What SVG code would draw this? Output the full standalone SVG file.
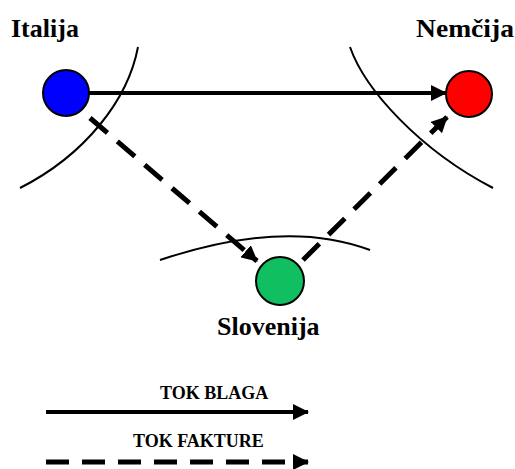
<svg xmlns="http://www.w3.org/2000/svg" width="515" height="469" viewBox="0 0 515 469">
<style>
.arc{fill:none;stroke:#000;stroke-width:2}
.solid{fill:none;stroke:#000;stroke-width:4}
.dash{fill:none;stroke:#000;stroke-width:5;stroke-dasharray:23 13}
.node{stroke:#000;stroke-width:2}
</style>
<defs>
<marker id="ah" viewBox="0 0 16 16" refX="15" refY="8" markerWidth="16" markerHeight="16" markerUnits="userSpaceOnUse" orient="auto">
<path d="M0,0 L16,8 L0,16 z" fill="#000"/>
</marker>
</defs>
<rect width="515" height="469" fill="#fff"/>
<g id="borders">
<path class="arc" d="M138,47 C128,100 85,155 20,188"/>
<path class="arc" d="M350,47 C365,90 420,150 493,188"/>
<path class="arc" d="M160,260 Q285,218 370,250"/>
</g>
<g id="connectors">
<line class="solid" x1="89" y1="93" x2="446" y2="93" marker-end="url(#ah)"/>
<line class="dash" x1="90" y1="118" x2="257" y2="261" marker-end="url(#ah)"/>
<line class="dash" x1="303" y1="260" x2="447" y2="117" marker-end="url(#ah)"/>
</g>
<g id="italija">
<circle class="node" cx="66" cy="93" r="23" fill="#0000ff"/>
<text x="11" y="37" font-size="26" font-weight="bold" font-family="'Liberation Serif', serif">Italija</text>
</g>
<g id="nemcija">
<circle class="node" cx="469" cy="94" r="23" fill="#ff0000"/>
<text x="416" y="37" font-size="26" font-weight="bold" font-family="'Liberation Serif', serif" textLength="98" lengthAdjust="spacingAndGlyphs">Nemčija</text>
</g>
<g id="slovenija">
<circle class="node" cx="280" cy="281" r="24" fill="#10c060"/>
<text x="217" y="335" font-size="26" font-weight="bold" font-family="'Liberation Serif', serif">Slovenija</text>
</g>
<g id="legend">
<text x="160" y="399" font-size="18" font-weight="bold" font-family="'Liberation Serif', serif">TOK BLAGA</text>
<line class="solid" x1="46" y1="412" x2="308" y2="412" marker-end="url(#ah)"/>
<text x="133" y="447" font-size="18" font-weight="bold" font-family="'Liberation Serif', serif">TOK FAKTURE</text>
<line class="dash" x1="46" y1="462" x2="308" y2="462" marker-end="url(#ah)"/>
</g>
</svg>
